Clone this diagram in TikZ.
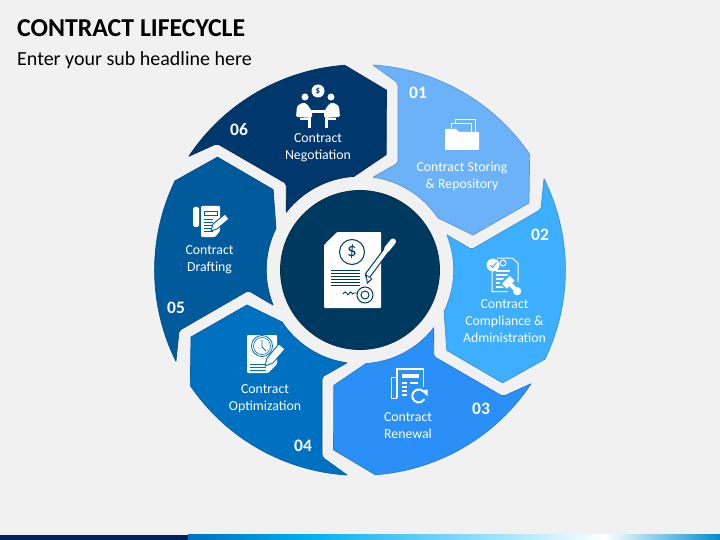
\documentclass[tikz,border=0pt]{standalone}
\usepackage{fontspec}
\setmainfont{Carlito}
\usetikzlibrary{calc,positioning}
\definecolor{pagebg}{HTML}{F1F1F1}
\definecolor{segA}{HTML}{6CB2F9}
\definecolor{segB}{HTML}{3EAEFF}
\definecolor{segC}{HTML}{2A8FF6}
\definecolor{segD}{HTML}{0070C0}
\definecolor{segE}{HTML}{005A9C}
\definecolor{segF}{HTML}{00376C}
\definecolor{hubblue}{HTML}{00395F}
\definecolor{barnavy}{HTML}{002060}
\definecolor{barcyan}{HTML}{00B0F0}
\tikzset{
	seg/.style={line width=0.7pt,line join=round},
	numtxt/.style={text=white,inner sep=0pt,font=\fontsize{17.5}{17.5}\selectfont\bfseries},
	labtxt/.style={text=white,inner sep=0pt,align=center,font=\fontsize{13.8}{16.8}\selectfont},
	ico/.style={fill=white,draw=none},
	icoline/.style={draw=white,line width=1pt}
}
\begin{document}
\begin{tikzpicture}[x=1pt,y=-1pt]
		\useasboundingbox (0,0) rectangle (720,540);
		\fill[pagebg] (0,0) rectangle (720,540);
		% bottom bar
		\fill[barnavy] (0,534.5) rectangle (188,540);
		\shade[left color=segD,right color=barcyan] (188,534.5) rectangle (310,540);
		\shade[left color=barcyan,right color=white] (310,534.5) rectangle (605,540);
		\shade[left color=white,right color=segD!80!cyan] (605,534.5) rectangle (720,540);
		\node(title) [anchor=base west,inner sep=0pt,font=\fontsize{25.8}{25.8}\selectfont\bfseries] at (17,37) {CONTRACT LIFECYCLE};
		\node(subtitle) [anchor=base west,inner sep=0pt,font=\fontsize{20}{20}\selectfont] at (17,66) {Enter your sub headline here};
		% the six segments
		\foreach \i/\col in {0/segA,1/segB,2/segC,3/segD,4/segE,5/segF}{
			\begin{scope}[shift={(360,270)},rotate=-60*\i]
				\draw[seg,draw=\col!85!black,fill=\col] (13,-205) arc[start angle=86.4,end angle=34.2,radius=205pt]
					-- (169,-67) -- (113,-35) -- (78,-52)
					arc[start angle=33.7,end angle=82,radius=93.7pt]
					[rounded corners=2pt] -- (38,-107) -- (38,-187) [rounded corners=0pt] -- cycle;
			\end{scope}
		}
		% centre
		\draw[fill=hubblue,draw=hubblue!80!black,line width=0.8pt] (360,270) circle (79.5pt);
		\node(n1) [numtxt] at (418,92.5) {01};
		\node(n2) [numtxt] at (540,234.5) {02};
		\node(n3) [numtxt] at (481,408.5) {03};
		\node(n4) [numtxt] at (303,445.5) {04};
		\node(n5) [numtxt] at (176,307.5) {05};
		\node(n6) [numtxt] at (239,129.5) {06};
		\node(storing) [labtxt] at (462,176.5) {Contract Storing\\\& Repository};
		\node(compliance) [labtxt] at (504.5,321) {Contract\\Compliance \&\\Administration};
		\node(renewal) [labtxt] at (408,425.5) {Contract\\Renewal};
		\node(optim) [labtxt] at (265,399) {Contract\\Optimization};
		\node(drafting) [labtxt] at (209.5,259.5) {Contract\\Drafting};
		\node(negot) [labtxt] at (318,147.5) {Contract\\Negotiation};
		% folder
		\draw[icoline] (455,124) -- (455,120) -- (475,120) -- (475,132);
		\draw[icoline] (451,128) -- (451,124) -- (471,124) -- (471,132);
		\fill[ico,rounded corners=0.8pt] (445,129) -- (456,129) -- (459,132) -- (479,132) -- (479,150) -- (445,150) -- cycle;
		% compliance
		\draw[icoline] (497,258) -- (512,258) -- (518,263) -- (518,291.5) -- (492,291.5) -- (492,270);
		\foreach \y in {271,275,279,283,287}{
			\draw[white,line width=1.3pt] (496,\y) -- (510,\y);
		}
		\fill[ico] (493,265) circle (6.5pt);
		\draw[segB,line width=1pt] (490,265) -- (492.5,267.5) -- (496.5,262.5);
		\draw[icoline,fill=segB] (503,263) circle (3pt);
		\begin{scope}[shift={(510,284)},rotate=-45]
			\fill[segB] (-8,-7) rectangle (15,7);
			\fill[ico] (-6,-5.5) rectangle (1,5.5);
			\fill[ico] (1,-2) rectangle (7,2);
			\fill[ico] (10,0) circle (4.2pt);
		\end{scope}
		% renewal
		\draw[icoline] (396,377) -- (391,377) -- (391,398) -- (397,398);
		\draw[icoline,line width=1.4pt] (397,398) -- (397,369) -- (423.5,369) -- (423.5,390);
		\fill[ico] (402,374) rectangle (419,378);
		\foreach \y in {382,386,390,394}{
			\fill[ico] (402,\y) rectangle (407,\y+2);
		}
		\fill[ico] (410,382) rectangle (418,384);
		\fill[segC] (419,396) circle (10pt);
		\draw[white,line width=2pt] (423,391) arc[start angle=50,end angle=330,radius=6.5pt];
		\fill[ico] (421,390.5) -- (427.5,389.5) -- (427.5,396) -- cycle;
		% optimization
		\fill[ico,rounded corners=1pt] (247,335) -- (277,335) -- (277,364) -- (268,373) -- (247,373) -- cycle;
		\draw[segD,line width=0.8pt] (262,346) circle (10.5pt);
		\draw[segD,line width=0.6pt] (262,346) circle (8.5pt);
		\draw[segD,line width=0.8pt] (262,340) -- (262,347) -- (266,351);
		\foreach \y in {364,367,370}{
			\draw[segD,line width=0.7pt] (250,\y) -- (266,\y);
		}
		\draw[segD,line width=0.9pt,fill=white,line join=round] (265,366) -- (267,358) -- (279,344) -- (285,349) -- (273,363) -- cycle;
		% drafting
		\fill[ico,rounded corners=1.5pt] (193,207) rectangle (199,227);
		\fill[ico,rounded corners=1pt] (201,206) -- (220,206) -- (220,231) -- (215,237) -- (201,237) -- cycle;
		\draw[segE,line width=0.8pt] (204,211) rectangle (217,215);
		\foreach \y in {219,222,225,228,231}{
			\draw[segE,line width=0.7pt] (204,\y) -- (213,\y);
		}
		\draw[segE,line width=0.9pt,fill=white,line join=round] (211,231) -- (213,224) -- (225,214) -- (229,219) -- (217,229) -- cycle;
		% negotiation
		\fill[ico] (318,91) circle (6.5pt);
		\node(dollarsm) [inner sep=0pt,text=segF,font=\fontsize{9}{9}\selectfont\bfseries] at (318,91) {\$};
		\fill[ico] (305,97) circle (3.5pt);
		\fill[ico] (331,97) circle (3.5pt);
		\fill[ico,rounded corners=1.5pt] (296,117) -- (297,106) -- (303,102.5) -- (307,104) -- (311,110) -- (312,113) -- (312,118) -- cycle;
		\fill[ico,rounded corners=1.5pt] (340,117) -- (339,106) -- (333,102.5) -- (329,104) -- (325,110) -- (324,113) -- (324,118) -- cycle;
		\fill[ico] (307,110.5) rectangle (329,113);
		\fill[ico] (308,118) rectangle (311,128);
		\fill[ico] (325,118) rectangle (328,128);
		\fill[ico] (300,118) rectangle (311,120.5);
		\fill[ico] (325,118) rectangle (336,120.5);
		% centre document
		\fill[ico,rounded corners=1pt] (337,232) -- (381,232) -- (381,308) -- (324,308) -- (324,245) -- cycle;
		\fill[ico] (326,243) -- (335,243) -- (336,234) -- cycle;
		\draw[hubblue,line width=1pt] (352,252) circle (12.5pt);
		\node(dollarbig) [inner sep=0pt,text=hubblue,font=\fontsize{19}{19}\selectfont] at (352,252) {\$};
		\foreach \y in {270,273,276,279,282,285}{
			\draw[hubblue,line width=1pt] (331,\y) -- (360,\y);
		}
		\draw[hubblue,line width=0.9pt] (343,294) .. controls (347,288) and (347,298) .. (349,294) .. controls (351,288) and (352,297) .. (354,293) -- (358,293);
		\draw[hubblue,line width=1pt] (365,295) circle (8pt);
		\draw[hubblue,line width=1pt] (365,295) circle (4pt);
		\draw[hubblue,line width=6.5pt,line cap=round] (368,275) -- (393,241.5);
		\draw[white,line width=4.2pt,line cap=round] (368,275) -- (393,241.5);
		\fill[hubblue] (367,284) -- (365.5,274) -- (372.5,279) -- cycle;
		\fill[ico] (367.5,281.5) -- (367,276) -- (371,279) -- cycle;
		\draw[white,line width=6pt,line cap=round] (387,249) -- (393,241.5);
	\end{tikzpicture}
\end{document}
